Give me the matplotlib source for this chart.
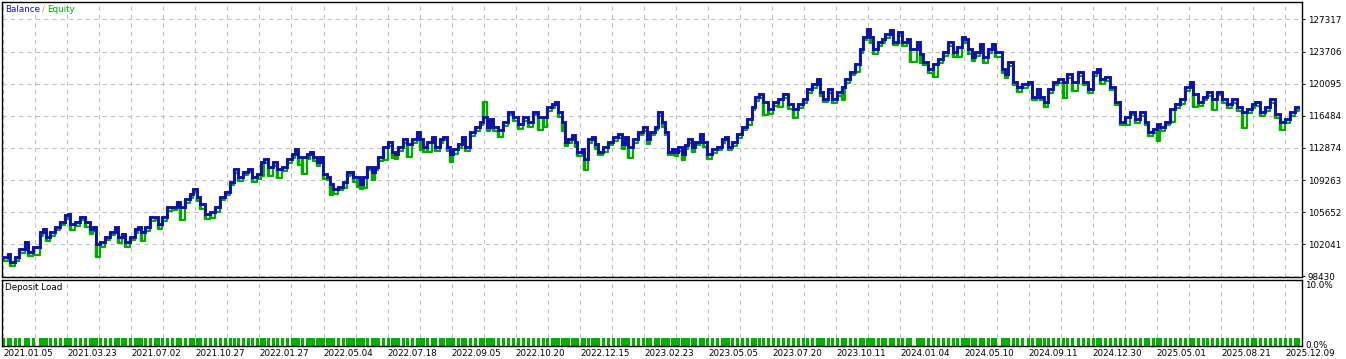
import numpy as np
import matplotlib.pyplot as plt

# deal number (position along the tester x axis) and balance after that deal
deals = [
    3, 8, 10, 15, 19, 25, 28, 33, 40, 43, 46, 50, 55, 60, 65, 68, 70, 75, 80, 85,
    90, 93, 96, 100, 105, 110, 115, 118, 122, 125, 130, 135, 138, 141, 145, 150, 155, 158, 162, 167,
    172, 177, 180, 185, 190, 193, 197, 200, 205, 210, 215, 220, 225, 230, 234, 238, 243, 248, 252, 257,
    261, 264,
    268, 273, 277, 282, 287, 292, 295, 298, 302, 307, 310, 313, 317, 320, 323, 327, 330, 333, 338, 343,
    347, 350, 353, 357, 360, 363, 367, 372, 375, 378, 383, 388, 392, 395, 398, 403, 407, 412, 417, 420,
    423, 427, 432, 435, 440, 443, 447, 450, 453, 458, 462, 465, 470, 475, 480, 483, 487, 490, 493, 498,
    503, 508, 513, 518, 523, 528, 533,
    538, 543, 547, 552, 555, 558, 562, 565, 568, 572, 575, 577, 582, 584, 588, 592, 595, 598, 603, 608,
    613, 618, 622, 625, 628, 633, 638, 643, 647, 650, 655, 658, 662, 665, 668, 672, 675, 678, 682, 685,
    688, 692, 695, 700, 703, 707, 712, 717, 722, 725, 728, 732, 737, 742, 747, 752, 755, 759, 763, 768,
    773, 778, 783, 788,
    793, 798, 803, 807, 812, 817, 820, 823, 828, 832, 837, 842, 845, 850, 855, 860, 863, 867, 870, 873,
    878, 882, 885, 890, 893, 898, 902, 907, 910, 917, 920, 923, 928, 933, 938, 943, 948, 953, 957, 962,
    965, 968, 972, 975, 980, 983, 988, 992, 995, 1002, 1005, 1008, 1013, 1017, 1022, 1028, 1032, 1037, 1040, 1044,
    1048, 1053,
    1058, 1063, 1067, 1072, 1078, 1083, 1088, 1093, 1097, 1100, 1105, 1110, 1115, 1120, 1125, 1130, 1135, 1140, 1145, 1148,
    1153, 1157, 1160, 1165, 1170, 1175, 1180, 1185, 1190, 1193, 1198, 1203, 1207, 1212, 1217, 1222, 1227, 1232, 1237, 1242,
    1247, 1252, 1255, 1260, 1265, 1270, 1275, 1280, 1285, 1290, 1295, 1298,
]

balance = [
    100566, 100903, 100116, 100678, 101465, 102252, 101240, 101802, 103376, 103825, 102926, 103488, 104050, 104612, 105287, 105399, 104387, 104612, 105174, 104500,
    103713, 103938, 102027, 102252, 102926, 103488, 104050, 102926, 103263, 102252, 102926, 103713, 104050, 103376, 104050, 105062, 105174, 104275, 105062, 106186,
    106298, 106860, 106186, 107085, 107647, 108321, 107422, 106523, 105399, 105736, 106186, 107422, 107984, 109108, 110457, 109670, 110232, 110569, 109558, 109895,
    111356, 111581,
    110682, 111244, 110457, 110794, 111581, 112143, 112705, 111918, 111806, 112143, 112480, 111918, 111356, 111918, 109895, 109670, 108771, 108209, 108546, 109108,
    110120, 110232, 109558, 109670, 108771, 109558, 110794, 110120, 110794, 111918, 112930, 113492, 112480, 112143, 112930, 113829, 113267, 113829, 114616, 113829,
    112930, 113604, 114054, 113042, 113829, 114166, 113042, 112143, 112705, 113267, 114054, 113042, 114616, 115178, 115852, 116414, 115290, 116077, 115290, 114841,
    115740, 116976, 116414, 115515, 116302, 115740, 116976,
    116302, 116414, 117426, 117763, 118100, 116864, 115740, 113604, 113829, 114279, 113492, 112480, 112705, 111581, 113829, 114166, 113267, 112480, 112930, 113604,
    114054, 114391, 113267, 114054, 113042, 113829, 114728, 115178, 113829, 114728, 115290, 116864, 115740, 114728, 112480, 112817, 112368, 113042, 112255, 113155,
    113829, 112930, 113604, 114391, 113492, 112143, 112705, 113042, 113829, 114166, 113042, 113604, 114391, 115290, 116189, 117538, 118550, 118887, 117988, 117201,
    117988, 118325, 118887, 117763,
    117201, 117763, 118325, 119449, 120011, 120573, 119224, 118437, 119449, 118437, 119112, 119674, 120573, 121472, 122259, 123945, 125406, 126305, 125406, 123945,
    124732, 125069, 125631, 126081, 124844, 125856, 124844, 125069, 123945, 124732, 123383, 122596, 121697, 122259, 122821, 123608, 124732, 123608, 124282, 125406,
    125069, 123945, 123046, 123608, 124507, 123158, 123945, 124507, 123608, 121697, 121135, 122484, 120348, 119674, 120011, 120348, 118662, 119449, 118662, 117988,
    119449, 120348,
    120573, 120348, 121135, 120236, 121360, 120348, 119449, 121360, 121697, 120573, 120798, 119786, 118100, 115852, 116302, 116976, 116077, 116864, 115852, 114616,
    114953, 115515, 115178, 115852, 117201, 117763, 118325, 119674, 120236, 118887, 117988, 118662, 119112, 118325, 119224, 118325, 117763, 118325, 117426, 116864,
    117201, 117763, 117988, 116976, 117426, 118325, 116639, 115852, 116077, 116864, 117538, 117426,
]

# how far equity dipped below balance around each deal (negative = floated above)
equity_drop = [
    340, 340, 560, 450, 340, 340, 560, 900, 340, 340, 560, 450, 340, 340, 340, 340, 675, 450, 340, 450,
    560, 340, 1350, 450, 340, 340, 340, 675, 450, 560, 340, 340, 340, 900, 560, 340, 340, 560, 340, 340,
    340, 450, 1350, 340, 340, 340, 560, 450, 560, 675, 450, 340, 340, 340, 340, 560, 340, 340, 560, 450,
    1575, 340,
    1010, 340, 900, 450, 340, 340, 340, 900, 1910, 450, 340, 560, 450, 340, 560, 340, 1125, 560, 340, 675,
    340, 340, 560, 1125, 450, 1125, 340, 790, 340, 450, 1350, 340, 675, 450, 340, 340, 1350, 340, 340, 1125,
    450, 1125, 340, 450, 340, 340, 560, 790, 450, 340, 340, 450, 340, 340, 340, -1575, 560, 340, 450, 675,
    340, 340, 450, 560, 340, 560, 340,
    1350, 1125, 340, 340, 340, 450, 1010, 450, 340, 340, 560, 450, 340, 1125, 340, 340, 450, 340, 560, 340,
    340, 340, 560, 340, 1240, 340, 340, 340, 560, 340, 340, 340, 450, 340, 340, 675, 340, 450, 675, 340,
    340, 560, 340, 340, 560, 560, 340, 340, 340, 340, 340, 450, 340, 340, 675, 340, 340, 340, 1350, 450,
    340, 790, 340, 450,
    900, 340, 340, 340, 340, 340, 450, 340, 340, 450, 340, 1350, 340, 340, 790, 340, 340, 340, 675, 450,
    340, 340, 340, 340, 340, 340, 450, 340, 1350, 340, 900, 340, 340, 1460, 340, 340, 340, 450, 1125, 340,
    340, 450, 340, 340, 340, 675, 340, 340, 450, 340, 340, 340, 340, 560, 340, 340, 340, 340, 340, 450,
    340, 340,
    340, 1800, 340, 1010, 340, 340, 340, 340, 340, 450, 340, 340, 340, 340, 790, 340, 340, 340, 340, 340,
    340, 1910, 340, 340, 1350, 340, 560, 340, 340, 1350, 340, 340, 340, 1125, 340, 340, 340, 340, 340, 1690,
    340, 340, 340, 450, 340, 340, 340, 900, 340, 340, 340, 340,
]

# every deposit load bar reads about 1.1 %
load_pct = 1.1

date_labels = [
    "2021.01.05", "2021.03.23", "2021.07.02", "2021.10.27", "2022.01.27", "2022.05.04",
    "2022.07.18", "2022.09.05", "2022.10.20", "2022.12.15", "2023.02.23", "2023.05.05",
    "2023.07.20", "2023.10.11", "2024.01.04", "2024.05.10", "2024.09.11", "2024.12.30",
    "2025.05.01", "2025.08.21", "2025.12.09",
]

y_low, y_high = 98430, 127317

x = np.array(deals)
bal = np.array(balance)
eq = bal - np.array(equity_drop)

plt.rcParams["font.family"] = "DejaVu Sans"
fs = 6.3

W, H = 1346, 359
fig = plt.figure(figsize=(W / 100, H / 100), dpi=100)
fig.patch.set_facecolor("white")

ax = fig.add_axes([2 / W, (H - 276.5) / H, 1300 / W, 274.5 / H])
ax2 = fig.add_axes([2 / W, (H - 345.5) / H, 1300 / W, 66 / H])

blue = "#1010a8"
green = "#00a800"
grid_kw = dict(color="#c0c0c0", linestyle=(0, (4, 4)), linewidth=0.75)

# main panel
ax.vlines(x, bal, eq, color=green, linewidth=2.4, zorder=2)
ax.plot(x, eq, drawstyle="steps-post", color=green, linewidth=1.6, zorder=2)
ax.plot(x, bal, drawstyle="steps-post", color=blue, linewidth=2.1, zorder=3,
        solid_joinstyle="miter")

vticks = 3 + 32.05 * np.arange(41)
yticks = np.linspace(y_low, y_high, 9)
ax.set_xlim(2, 1302)
ax.set_ylim(y_low, y_low + (y_high - y_low) / 257 * 274.5)
ax.set_xticks(vticks)
ax.set_xticklabels([])
ax.tick_params(axis="x", length=0)
ax.set_yticks(yticks)
ax.set_yticklabels([f"{v:.0f}" for v in yticks])
ax.yaxis.tick_right()
ax.tick_params(axis="y", length=2.5, width=0.7, pad=1.5, labelsize=fs)
ax.grid(True, **grid_kw)
ax.set_axisbelow(True)
for s in ax.spines.values():
    s.set_linewidth(1.0)

fig.text(5 / W, 1 - 9.5 / H, "Balance", color=blue, va="center", ha="left", fontsize=fs)
fig.text(42 / W, 1 - 9.5 / H, "/", color="#c8a000", va="center", ha="left", fontsize=fs)
fig.text(47 / W, 1 - 9.5 / H, "Equity", color=green, va="center", ha="left", fontsize=fs)

# deposit load panel
ax2.bar(x, [load_pct] * len(x), width=3.0, color="#00b000", align="center", zorder=2)
ax2.set_xlim(2, 1302)
ax2.set_ylim(0, 10)
ax2.set_xticks(vticks)
ax2.set_xticklabels([date_labels[i // 2] if i % 2 == 0 else "" for i in range(len(vticks))],
                    ha="left")
ax2.tick_params(axis="x", length=0, pad=2.5, labelsize=fs)
ax2.set_yticks([])
ax2.grid(True, axis="x", **grid_kw)
ax2.set_axisbelow(True)
for s in ax2.spines.values():
    s.set_linewidth(1.0)

fig.text(5 / W, 1 - 287 / H, "Deposit Load", color="black", va="center", ha="left", fontsize=fs)
fig.text(1305 / W, 1 - 285.5 / H, "10.0%", va="center", ha="left", fontsize=fs)
fig.text(1305 / W, 1 - 345.5 / H, "0.0%", va="center", ha="left", fontsize=fs)

fig.savefig("out.png", dpi=100)
